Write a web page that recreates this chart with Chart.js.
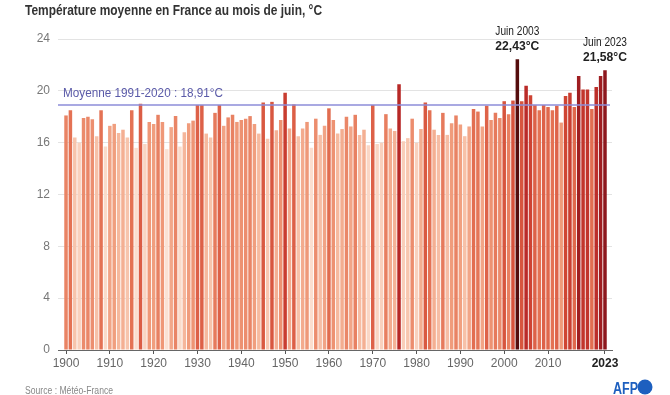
<!DOCTYPE html>
<html><head><meta charset="utf-8">
<script src="https://cdn.jsdelivr.net/npm/chart.js@4/dist/chart.umd.min.js"></script>
<style>html,body{margin:0;padding:0;background:#fff;}#wrap{width:670px;height:395px;}</style>
</head><body><div id="wrap"><canvas id="c" width="670" height="395"></canvas></div>
<script>
const firstYear = 1900;
const temps = [
 18.1,18.5,16.4,16.0,17.9,18.0,17.8,16.5,18.5,15.7,
 17.3,17.45,16.75,17.0,16.4,18.5,15.6,19.0,15.9,17.6,
 17.45,18.15,17.6,15.5,17.2,18.05,15.7,16.8,17.5,17.7,
 18.9,18.9,16.7,16.4,18.3,18.9,17.3,17.95,18.15,17.6,
 17.75,17.85,18.05,17.45,16.7,19.1,16.3,19.15,16.95,17.75,
 19.85,17.1,18.95,16.5,17.1,17.6,15.6,17.85,16.6,17.3,
 18.65,17.75,16.7,17.05,18.0,17.25,18.15,16.6,17.0,15.8,
 18.9,15.9,16.0,18.2,17.1,16.9,20.5,16.1,16.35,17.85,
 16.0,17.05,19.1,18.5,17.0,16.6,18.3,16.6,17.5,18.1,
 17.4,16.5,17.25,18.6,18.4,17.25,18.85,17.75,18.3,17.9,
 19.2,18.2,19.25,22.43,19.2,20.4,19.65,18.9,18.5,18.9,
 18.75,18.5,18.85,17.55,19.6,19.85,18.75,21.15,20.1,20.1,
 18.6,20.3,21.15,21.58
];
const years = temps.map((_, i) => firstYear + i);
const tickYears = [1900,1910,1920,1930,1940,1950,1960,1970,1980,1990,2000,2010,2023];
const yTicks = [0,4,8,12,16,20,24];
const meanValue = 18.91;
const meanLabel = 'Moyenne 1991-2020 : 18,91°C';
const titleText = 'Température moyenne en France au mois de juin, °C';
const sourceText = 'Source : Météo-France';
const calloutYears = [2003, 2023];
const calloutLine1 = ['Juin 2003', 'Juin 2023'];
const calloutLine2 = ['22,43°C', '21,58°C'];

const FONT = '"Liberation Sans", Arial, sans-serif';

const stops = [[15.5,[251,225,211]],[16.5,[247,193,168]],[17.5,[240,156,124]],[18.5,[228,114,84]],[19.5,[210,72,53]],[20.5,[183,40,38]],[21.5,[146,24,30]],[22.5,[80,12,12]]];
function colorFor(v){
  if (v <= stops[0][0]) return `rgb(${stops[0][1].join(',')})`;
  for (let i=1;i<stops.length;i++){
    if (v <= stops[i][0]){
      const [a,ca]=stops[i-1],[b,cb]=stops[i];
      const t=(v-a)/(b-a);
      const c=ca.map((x,k)=>Math.round(x+(cb[k]-x)*t));
      return `rgb(${c.join(',')})`;
    }
  }
  return `rgb(${stops[stops.length-1][1].join(',')})`;
}

// draw text horizontally condensed to a target width
function fitText(ctx, text, x, y, w, align){
  const m = ctx.measureText(text).width;
  const k = Math.min(1, w / m);
  ctx.save();
  ctx.textAlign = 'left';
  let x0 = x;
  if (align === 'center') x0 = x - m*k/2;
  else if (align === 'right') x0 = x - m*k;
  ctx.translate(x0, y); ctx.scale(k, 1);
  ctx.fillText(text, 0, 0);
  ctx.restore();
}

const overlay = {
  id:'overlay',
  afterDatasetsDraw(chart){
    const {ctx, chartArea:a, scales:{x,y}} = chart;
    ctx.save();
    const ym = y.getPixelForValue(meanValue);
    ctx.strokeStyle='#8c8cd8'; ctx.lineWidth=1.5;
    ctx.beginPath(); ctx.moveTo(a.left, ym); ctx.lineTo(a.right-2, ym); ctx.stroke();
    ctx.fillStyle='#5a5aa8'; ctx.font='13.5px '+FONT; ctx.textBaseline='alphabetic';
    fitText(ctx, meanLabel, a.left+5, ym-8, 160, 'left');
    calloutYears.forEach((yr,i)=>{
      const v = temps[yr-firstYear];
      const px = x.getPixelForValue(yr), py = y.getPixelForValue(v);
      ctx.fillStyle='#222';
      ctx.font='13px '+FONT; fitText(ctx, calloutLine1[i], px, py-24, 44, 'center');
      ctx.font='bold 13px '+FONT; fitText(ctx, calloutLine2[i], px, py-9, 44, 'center');
    });
    ctx.restore();
  },
  afterDraw(chart){
    const ctx = chart.ctx;
    ctx.save();
    ctx.textBaseline='alphabetic';
    ctx.fillStyle='#333'; ctx.font='bold 14px '+FONT;
    fitText(ctx, titleText, 25, 15, 297, 'left');
    ctx.fillStyle='#888'; ctx.font='10px '+FONT;
    fitText(ctx, sourceText, 25, 394, 88, 'left');
    ctx.fillStyle='#1d5fbf'; ctx.font='bold 16px '+FONT;
    fitText(ctx, 'AFP', 613, 394, 25, 'left');
    ctx.beginPath(); ctx.arc(645, 387, 7.5, 0, Math.PI*2); ctx.fill();
    ctx.restore();
  }
};

new Chart(document.getElementById('c'), {
  type:'bar',
  data:{ datasets:[{
    data: years.map((yr,i)=>({x:yr, y:temps[i]})),
    backgroundColor: temps.map(colorFor),
    borderWidth:0,
    barPercentage:0.8, categoryPercentage:1
  }]},
  options:{
    responsive:false, animation:false, devicePixelRatio:1,
    layout:{padding:{left:20,right:58,top:39,bottom:19}},
    plugins:{legend:{display:false}, tooltip:{enabled:false}},
    scales:{
      x:{ type:'linear', min:1898.17, max:2024.6, offset:false,
        afterBuildTicks: s => { s.ticks = tickYears.map(v=>({value:v})); },
        afterFit: s => { s.height = 26; },
        grid:{ drawOnChartArea:false, drawTicks:true, tickLength:4, color:'#555', offset:false },
        border:{ display:true, color:'#666', width:1 },
        ticks:{ autoSkip:false, maxRotation:0, padding:2,
          callback: v => String(v),
          color: c => c.tick && c.tick.value===2023 ? '#222' : '#666',
          font: c => (c.tick && c.tick.value===2023) ? {family:FONT, size:12, weight:'bold'} : {family:FONT, size:12} }
      },
      y:{ min:0, max:24,
        afterBuildTicks: s => { s.ticks = yTicks.map(v=>({value:v})); },
        afterFit: s => { s.width = 38; },
        grid:{ color: c => c.tick && c.tick.value===0 ? '#666' : '#e3e3e3', drawTicks:false },
        border:{ display:false },
        ticks:{ padding:8, color:'#777', font:{family:FONT, size:12}, callback: v => String(v) }
      }
    }
  },
  plugins:[overlay]
});
</script></body></html>
